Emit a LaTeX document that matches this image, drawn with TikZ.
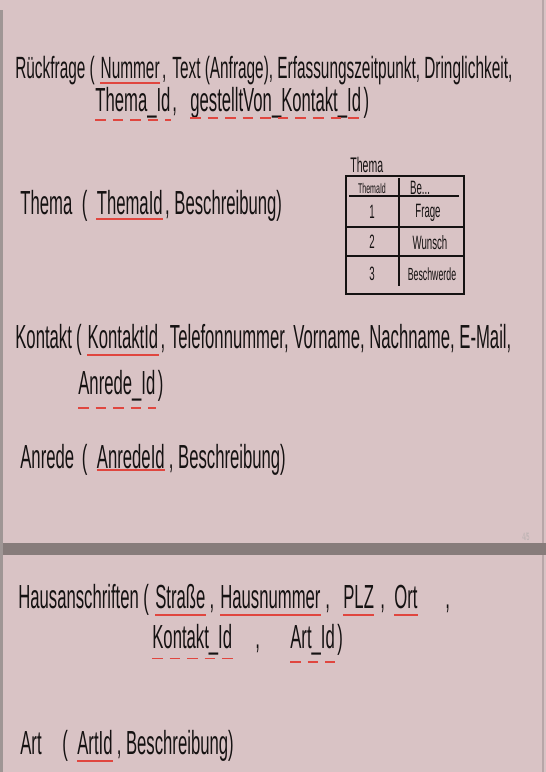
\documentclass[tikz,border=0pt]{standalone}
\usepackage{fontspec}
\setmainfont[FakeStretch=0.5]{Liberation Sans}
\definecolor{paper}{HTML}{D9C3C5}
\definecolor{gap}{HTML}{877C7B}
\definecolor{keyred}{HTML}{E0463F}
\definecolor{ink}{HTML}{151212}
\tikzset{
  hand/.style={anchor=base west, inner sep=0pt, text=ink, font=\fontsize{19}{22}\selectfont},
  handsm/.style={hand, font=\fontsize{17.5}{21}\selectfont},
  small/.style={inner sep=0pt, text=ink, font=\fontsize{11}{12}\selectfont},
  pk/.style={draw=keyred, line width=1pt},
  fk/.style={pk, dash pattern=on 6pt off 4pt},
}
\begin{document}
\begin{tikzpicture}[x=0.02cm, y=-0.02cm]
  \useasboundingbox (0,0) rectangle (546,772);
  % pages and page gap
  \fill[paper] (0,0) rectangle (546,772);
  \fill[gap] (0,543) rectangle (546,555);
  \fill[gap!80] (0,10) rectangle (3,772);
  \draw[paper!85!black, line width=0.6pt] (543,0) -- (543,543) (543,555) -- (543,772);
  \node[small, text=gap!60, font=\fontsize{6}{7}\selectfont] (pagenr) at (526,537) {4/5};

  % Rueckfrage
  \node[handsm] (rf) at (15,78) {Rückfrage};
  \node[handsm] (rfopen) at ([xshift=2pt]rf.base east) {(};
  \node[handsm] (nummer) at ([xshift=3pt]rfopen.base east) {Nummer};
  \node[handsm] (c1) at ([xshift=1pt]nummer.base east) {,};
  \node[handsm] (rftext) at ([xshift=3pt]c1.base east) {Text (Anfrage),};
  \node[handsm] (erf) at ([xshift=2pt]rftext.base east) {Erfassungszeitpunkt,};
  \node[handsm] (dring) at ([xshift=2pt]erf.base east) {Dringlichkeit,};
  \node[hand] (rfthema) at (95,111) {Thema\_Id};
  \node[hand] (c2) at (172,111) {,};
  \node[hand] (gestellt) at (190,111) {gestelltVon\_Kontakt\_Id};
  \node[hand] (rfend) at ([xshift=1pt]gestellt.base east) {)};
  \draw[pk] ([yshift=-3pt]nummer.base west) -- ([yshift=-3pt]nummer.base east);
  \draw[fk] ([yshift=-5pt]rfthema.base west) -- ([yshift=-5pt]rfthema.base east);
  \draw[fk] ([yshift=-4pt]gestellt.base west) -- ([yshift=-4pt]gestellt.base east);

  % Thema
  \node[hand] (thema) at (20,214) {Thema};
  \node[hand] (thopen) at ([xshift=5pt]thema.base east) {(};
  \node[hand] (themaid) at ([xshift=5pt]thopen.base east) {ThemaId};
  \node[hand] (threst) at ([xshift=1pt]themaid.base east) {, Beschreibung)};
  \draw[pk] ([yshift=-3pt]themaid.base west) -- ([yshift=-3pt]themaid.base east);

  % Thema table
  \node[small, anchor=base west, font=\fontsize{12}{13}\selectfont] (tabtitle) at (350,172) {Thema};
  \draw[ink, line width=0.7pt] (346,176) rectangle (464,294);
  \draw[ink, line width=0.7pt] (349,196) -- (459,196) (399,178) -- (399,286)
    (346,227) -- (464,227) (346,256) -- (464,256);
  \node[small, font=\fontsize{8}{9}\selectfont] (hid) at (372,188) {ThemaId};
  \node[small] (hbe) at (420,188) {Be...};
  \node[small] (id1) at (372,212) {1};
  \node[small] (be1) at (428,213) {Frage};
  \node[small] (id2) at (372,242) {2};
  \node[small] (be2) at (430,243) {Wunsch};
  \node[small] (id3) at (372,274) {3};
  \node[small, font=\fontsize{10}{11}\selectfont] (be3) at (432,274) {Beschwerde};

  % Kontakt
  \node[hand] (kontakt) at (15,348) {Kontakt};
  \node[hand] (koopen) at ([xshift=2pt]kontakt.base east) {(};
  \node[hand] (kontaktid) at ([xshift=3pt]koopen.base east) {KontaktId};
  \node[hand] (korest) at ([xshift=1pt]kontaktid.base east) {, Telefonnummer, Vorname, Nachname, E-Mail,};
  \node[hand] (koanrede) at (78,394) {Anrede\_Id};
  \node[hand] (koend) at ([xshift=1pt]koanrede.base east) {)};
  \draw[pk] ([yshift=-4pt]kontaktid.base west) -- ([yshift=-4pt]kontaktid.base east);
  \draw[fk] ([yshift=-8pt]koanrede.base west) -- ([yshift=-8pt]koanrede.base east);

  % Anrede
  \node[hand] (anrede) at (20,468) {Anrede};
  \node[hand] (anopen) at ([xshift=4pt]anrede.base east) {(};
  \node[hand] (anredeid) at ([xshift=5pt]anopen.base east) {AnredeId};
  \node[hand] (anrest) at ([xshift=2pt]anredeid.base east) {, Beschreibung)};
  \draw[pk] ([yshift=-1pt]anredeid.base west) -- ([yshift=-1pt]anredeid.base east);

  % Hausanschriften
  \node[hand] (haus) at (18,608) {Hausanschriften};
  \node[hand] (hsopen) at (143,608) {(};
  \node[hand] (strasse) at (155,608) {Straße};
  \node[hand] (c3) at ([xshift=2pt]strasse.base east) {,};
  \node[hand] (hausnr) at (220,608) {Hausnummer};
  \node[hand] (c4) at (325,608) {,};
  \node[hand] (plz) at (343,608) {PLZ};
  \node[hand] (c5) at (380,608) {,};
  \node[hand] (ort) at (394,608) {Ort};
  \node[hand] (c6) at (445,608) {,};
  \node[hand] (hskontakt) at (152,648) {Kontakt\_Id};
  \node[hand] (c7) at (255,648) {,};
  \node[hand] (hsart) at (290,648) {Art\_Id};
  \node[hand] (hsend) at ([xshift=1pt]hsart.base east) {)};
  \foreach \n in {strasse,hausnr,plz,ort}
    \draw[pk] ([yshift=-4pt]\n.base west) -- ([yshift=-4pt]\n.base east);
  \draw[fk] ([yshift=-6pt]hskontakt.base west) -- ([yshift=-6pt]hskontakt.base east);
  \draw[fk] ([yshift=-8pt]hsart.base west) -- ([yshift=-8pt]hsart.base east);

  % Art
  \node[hand] (art) at (20,754) {Art};
  \node[hand] (artopen) at (62,754) {(};
  \node[hand] (artid) at (77,754) {ArtId};
  \node[hand] (artrest) at ([xshift=2pt]artid.base east) {, Beschreibung)};
  \draw[pk] ([yshift=-4pt]artid.base west) -- ([yshift=-4pt]artid.base east);
\end{tikzpicture}
\end{document}
